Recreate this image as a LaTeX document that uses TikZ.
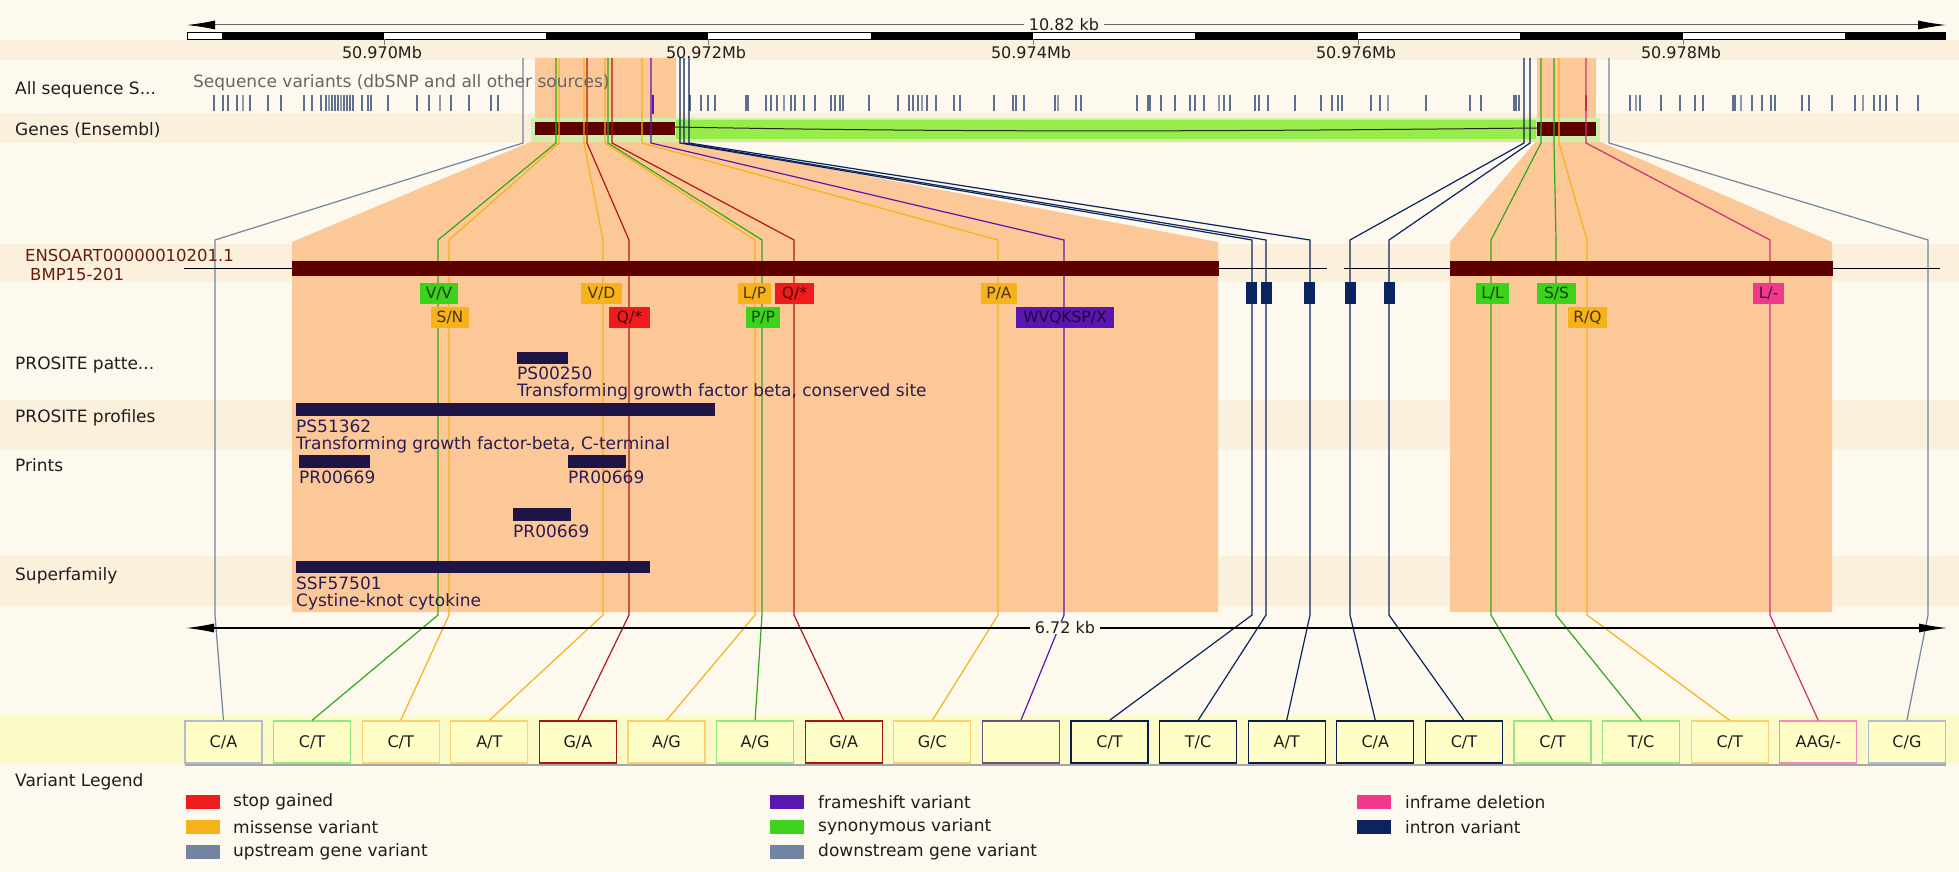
\documentclass[tikz,border=0pt]{standalone}
\usepackage{fontspec}
\setmainfont{DejaVu Sans}
\usetikzlibrary{arrows.meta}
\definecolor{bg}{HTML}{FDF9EE}
\definecolor{band}{HTML}{FAF0DC}
\definecolor{rowyel}{HTML}{FCFBC8}
\definecolor{orng}{HTML}{FCC898}
\definecolor{exon}{HTML}{5E0000}
\definecolor{gbright}{HTML}{95EC4A}
\definecolor{gpale}{HTML}{CDEFAA}
\definecolor{dom}{HTML}{1E1446}
\definecolor{domtxt}{HTML}{2A1D55}
\definecolor{stopc}{HTML}{EE1C1C}
\definecolor{misc}{HTML}{F5B21A}
\definecolor{upc}{HTML}{7384A3}
\definecolor{fsc}{HTML}{5A16B0}
\definecolor{sync}{HTML}{3CD21E}
\definecolor{infc}{HTML}{F0388C}
\definecolor{intc}{HTML}{0A2460}
\definecolor{boxfill}{HTML}{FEFEC6}
\definecolor{txt}{HTML}{1E1E1E}
\definecolor{trc}{HTML}{6B1A10}
\definecolor{tickc}{HTML}{5F6F8C}
\begin{document}
\begin{tikzpicture}[x=1pt,y=-1pt,
  lbl/.style={anchor=west,inner sep=0pt,font=\fontsize{17}{20}\selectfont,text=txt},
  dtxt/.style={anchor=west,inner sep=0pt,font=\fontsize{17}{20}\selectfont,text=domtxt},
  sclbl/.style={inner sep=0pt,font=\fontsize{16}{19}\selectfont,text=txt},
  vbox/.style={draw=#1,fill=boxfill,line width=1.3pt,minimum width=77pt,minimum height=42pt,inner sep=0pt,font=\fontsize{16}{19}\selectfont,text=txt},
  lab/.style={fill=#1,inner sep=0pt,minimum height=21pt,font=\fontsize{15.5}{18}\selectfont,text=#1!30!black},
  conn/.style={line width=1.2pt},
  vtick/.style={tickc,line width=1.1pt},
  sw/.style={minimum width=34pt,minimum height=14pt,inner sep=0pt,fill=#1},
  dbar/.style={fill=dom}
]
\useasboundingbox (0,0) rectangle (1959,872);
\fill[bg] (0,0) rectangle (1959,872);
% bands
\fill[band] (0,40) rectangle (1959,60);
\fill[band] (0,113) rectangle (1959,143);
\fill[band] (0,244) rectangle (1959,282);
\fill[band] (0,400) rectangle (1959,450);
\fill[band] (0,556) rectangle (1959,606);
\fill[rowyel] (0,716) rectangle (1959,764);
% orange zoom regions
\fill[orng] (535,58) -- (676,58) -- (676,140) -- (1218,242) -- (1218,612) -- (292,612) -- (292,242) -- (535,140) -- cycle;
\fill[orng] (1537,58) -- (1596,58) -- (1596,140) -- (1832,242) -- (1832,612) -- (1450,612) -- (1450,242) -- (1537,140) -- cycle;
% top scale
\coordinate (tL) at (187,25);
\coordinate (tR) at (1946,25);
\draw[black!60,line width=1pt,{Latex[length=28pt,width=9pt,black]}-{Latex[length=28pt,width=9pt,black]}] (tL) -- (tR);
\node[sclbl,fill=bg,inner xsep=5pt] (kb1) at (1064,25) {10.82 kb};
\draw[black,fill=white,line width=0.6pt] (187,32) rectangle (1945,39);
\foreach \a/\b in {221.5/384,546/708,871/1033,1195/1358,1520/1683,1845/1945}
  \fill[black] (\a,32) rectangle (\b,39);
\foreach \x in {384,708,1033,1358,1683}
  \draw[black!50,line width=0.8pt] (\x,39) -- (\x,45);
\node[sclbl] (m0) at (382,53) {50.970Mb};
\node[sclbl] (m2) at (706,53) {50.972Mb};
\node[sclbl] (m4) at (1031,53) {50.974Mb};
\node[sclbl] (m6) at (1356,53) {50.976Mb};
\node[sclbl] (m8) at (1681,53) {50.978Mb};
% variant ticks
\foreach \x in {214,223,228,237,243,250,268,281,304,312,321,326,329,332,335,338,341,344,347,350,353,362,368,371,388,417,429,440,451,469,491,498,
690,701,708,715,746,748,766,771,777,784,791,795,804,815,831,835,840,843,869,898,909,913,918,922,927,936,954,960,994,1013,1016,1024,1055,1058,1076,1081,1137,1148,1150,1161,1175,1190,1195,1204,1219,1224,1230,1255,1259,1268,1295,1321,1332,1338,1342,1371,1380,1388,1426,1470,1481,1514,1516,1519,
1630,1636,1640,1661,1680,1695,1703,1733,1735,1741,1752,1762,1771,1775,1802,1809,1832,1855,1863,1874,1880,1886,1897,1918}
  \draw[vtick] (\x,95) -- (\x,111);
\foreach \x in {243,329,341,440,784,922,1058,1219,1388,1636,1741,1863}
  \draw[bg!30!tickc,line width=1.1pt] (\x,95) -- (\x,111);
\draw[fsc,line width=2.4pt] (653,95) -- (653,114);
\draw[stopc!80!black,line width=1.4pt] (1586,95) -- (1586,111);
% gene track
\fill[gpale] (531,118) rectangle (1600,142);
\fill[gbright] (676,120) rectangle (1536,139);
\draw[black!85,line width=1pt] (675,127) .. controls (1000,133) and (1250,131) .. (1537,128);
\fill[exon] (535,122) rectangle (675,135);
\fill[exon] (1537,122) rectangle (1596,136);
% bottom variant boxes
\draw[black!35,line width=1.5pt] (185,765) -- (1946,765);
\node[vbox=upc!55] (box1) at (223.5,742) {C/A};
\node[vbox=sync!55] (box2) at (312.1,742) {C/T};
\node[vbox=misc!60] (box3) at (400.7,742) {C/T};
\node[vbox=misc!60] (box4) at (489.3,742) {A/T};
\node[vbox=stopc!70!black] (box5) at (577.9,742) {G/A};
\node[vbox=misc!60] (box6) at (666.5,742) {A/G};
\node[vbox=sync!55] (box7) at (755.1,742) {A/G};
\node[vbox=stopc!70!black] (box8) at (843.7,742) {G/A};
\node[vbox=misc!60] (box9) at (932.3,742) {G/C};
\node[vbox=fsc!40!black!70] (box10) at (1020.9,742) {};
\node[vbox=intc!80!black] (box11) at (1109.5,742) {C/T};
\node[vbox=intc!80!black] (box12) at (1198.1,742) {T/C};
\node[vbox=intc!80!black] (box13) at (1286.7,742) {A/T};
\node[vbox=intc!80!black] (box14) at (1375.3,742) {C/A};
\node[vbox=intc!80!black] (box15) at (1463.9,742) {C/T};
\node[vbox=sync!55] (box16) at (1552.5,742) {C/T};
\node[vbox=sync!55] (box17) at (1641.1,742) {T/C};
\node[vbox=misc!60] (box18) at (1729.7,742) {C/T};
\node[vbox=infc!60] (box19) at (1818.3,742) {AAG/-};
\node[vbox=upc!55] (box20) at (1906.9,742) {C/G};
% connectors
\foreach \i/\xt/\xm/\c in {1/523/215/upc,2/556/438/sync!80!black,3/559/449/misc,4/584/603/misc,5/587/629/stopc!75!black,6/605/755/misc,7/608/762/sync!80!black,8/612/794/stopc!75!black,9/642/998/misc,10/651/1064/fsc,11/680/1252/intc,12/684/1266/intc,13/689/1310/intc,14/1524/1350/intc,15/1530/1389/intc,16/1541/1491/sync!80!black,17/1554/1556/sync!80!black,18/1559/1587/misc,19/1586/1770/infc!85!black,20/1609/1928/upc}
{
  \coordinate (top\i) at (\xt,58);
  \draw[conn,\c] (top\i) -- (\xt,143) -- (\xm,240) -- (\xm,615) -- (box\i.north);
}
% transcript
\draw[black,line width=1pt] (184,268) -- (1327,268);
\draw[black,line width=1pt] (1344,268) -- (1940,268);
\draw[exon,fill=exon] (292,261) rectangle (1218,275);
\draw[exon,fill=exon] (1450,261) rectangle (1832,275);
\foreach \a in {1246,1261,1304,1345,1384}
  \fill[intc] (\a,282) rectangle ++(10.5,22);
% consequence labels
\node[lab=sync,minimum width=38pt] (vV) at (439,293.5) {V/V};
\node[lab=misc,minimum width=38pt] (sN) at (450,317.5) {S/N};
\node[lab=misc,minimum width=41pt] (vD) at (601.5,293.5) {V/D};
\node[lab=stopc,minimum width=41pt] (qA) at (629.5,317.5) {Q/*};
\node[lab=misc,minimum width=33pt] (lP) at (754.5,293.5) {L/P};
\node[lab=stopc,minimum width=39pt] (qB) at (794.5,293.5) {Q/*};
\node[lab=sync,minimum width=34pt] (pP) at (763,317.5) {P/P};
\node[lab=misc,minimum width=36pt] (pA) at (999,293.5) {P/A};
\node[lab=fsc,minimum width=98pt] (wv) at (1065,317.5) {WVQKSP/X};
\node[lab=sync,minimum width=33pt] (lL) at (1492.5,293.5) {L/L};
\node[lab=sync,minimum width=39pt] (sS) at (1556.5,293.5) {S/S};
\node[lab=misc,minimum width=39pt] (rQ) at (1587.5,317.5) {R/Q};
\node[lab=infc,minimum width=31pt] (lD) at (1768.5,293.5) {L/-};
% domains
\fill[dom] (517,352) rectangle (568,364);
\node[dtxt] (d1a) at (517,373) {PS00250};
\node[dtxt] (d1b) at (517,392) {Transforming growth factor beta, conserved site};
\fill[dom] (296,403) rectangle (715,416);
\node[dtxt] (d2a) at (296,426) {PS51362};
\node[dtxt] (d2b) at (296,445) {Transforming growth factor-beta, C-terminal};
\fill[dom] (299,455) rectangle (370,468);
\node[dtxt] (d3a) at (299,477) {PR00669};
\fill[dom] (568,455) rectangle (626,468);
\node[dtxt] (d4a) at (568,477) {PR00669};
\fill[dom] (513,508) rectangle (571,521);
\node[dtxt] (d5a) at (513,531) {PR00669};
\fill[dom] (296,561) rectangle (650,573);
\node[dtxt] (d6a) at (296,583) {SSF57501};
\node[dtxt] (d6b) at (296,602) {Cystine-knot cytokine};
% 6.72 kb arrow
\coordinate (bL) at (186,628);
\coordinate (bR) at (1947,628);
\draw[black,line width=1.2pt,{Latex[length=28pt,width=9pt]}-{Latex[length=28pt,width=9pt]}] (bL) -- (bR);
\node[sclbl,fill=bg,inner xsep=5pt] (kb2) at (1065,628) {6.72 kb};
% track labels
\node[lbl] (lAll) at (15,90) {All sequence S...};
\node[lbl,text=black!60] (lSeq) at (193,83) {Sequence variants (dbSNP and all other sources)};
\node[lbl] (lGenes) at (15,130) {Genes (Ensembl)};
\node[lbl,text=trc,font=\fontsize{16.5}{19}\selectfont] (lTr1) at (25,255) {ENSOART00000010201.1};
\node[lbl,text=trc,font=\fontsize{16.5}{19}\selectfont] (lTr2) at (30,274) {BMP15-201};
\node[lbl] (lPat) at (15,365) {PROSITE patte...};
\node[lbl] (lProf) at (15,418) {PROSITE profiles};
\node[lbl] (lPrints) at (15,465) {Prints};
\node[lbl] (lSuper) at (15,576) {Superfamily};
% legend
\node[lbl] (lLeg) at (15,782) {Variant Legend};
\node[sw=stopc] (s1) at (203,802) {};
\node[lbl] (t1) at (233,802) {stop gained};
\node[sw=misc] (s2) at (203,827) {};
\node[lbl] (t2) at (233,827) {missense variant};
\node[sw=upc] (s3) at (203,852) {};
\node[lbl] (t3) at (233,852) {upstream gene variant};
\node[sw=fsc] (s4) at (787,802) {};
\node[lbl] (t4) at (818,802) {frameshift variant};
\node[sw=sync] (s5) at (787,827) {};
\node[lbl] (t5) at (818,827) {synonymous variant};
\node[sw=upc] (s6) at (787,852) {};
\node[lbl] (t6) at (818,852) {downstream gene variant};
\node[sw=infc] (s7) at (1374,802) {};
\node[lbl] (t7) at (1405,802) {inframe deletion};
\node[sw=intc] (s8) at (1374,827) {};
\node[lbl] (t8) at (1405,827) {intron variant};
\end{tikzpicture}
\end{document}
